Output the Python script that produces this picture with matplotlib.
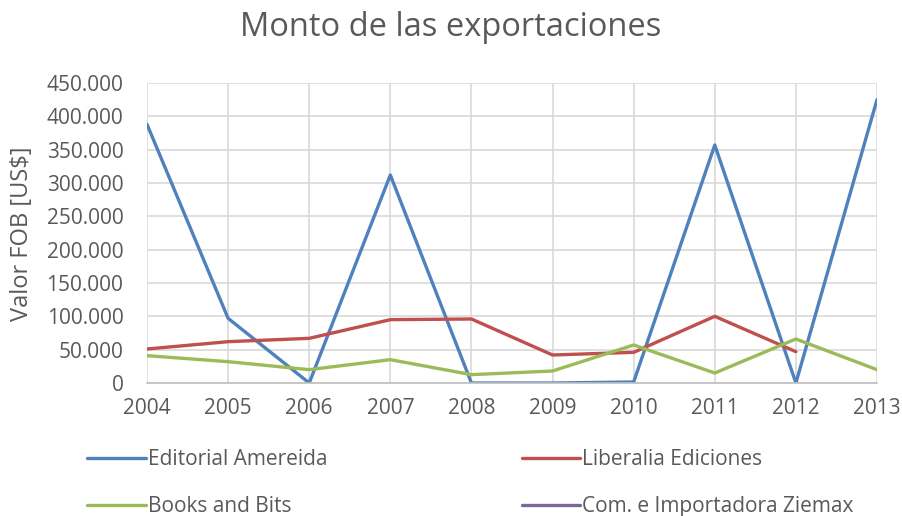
import numpy as np
import matplotlib
matplotlib.use("Agg")
import matplotlib.pyplot as plt
from matplotlib.ticker import FuncFormatter

years = [2004, 2005, 2006, 2007, 2008, 2009, 2010, 2011, 2012, 2013]

# valores FOB (US$)
amereida = [388000, 97000, 0, 312000, 0, 0, 1500, 357000, 0, 425000]
liberalia = [51000, 62000, 67000, 95000, 96000, 42000, 46000, 100000, 47000, np.nan]
books_bits = [41000, 32000, 20000, 35000, 12500, 18000, 57000, 15000, 66000, 20000]
ziemax = [np.nan] * 10

names = ["Editorial Amereida", "Liberalia Ediciones", "Books and Bits", "Com. e Importadora Ziemax"]
colors = ["#4F81BD", "#C0504D", "#9BBB59", "#8064A2"]

plt.rcParams["font.family"] = ["Open Sans", "DejaVu Sans"]
txt = "#595959"

fig = plt.figure(figsize=(9.02, 5.16), dpi=100)
ax = fig.add_axes([147/902, 1-383/516, 730/902, 300/516])

lines = []
for vals, name, c in zip([amereida, liberalia, books_bits, ziemax], names, colors):
    l, = ax.plot(years, vals, color=c, lw=2.4, label=name, solid_capstyle="round")
    lines.append(l)

ax.set_xlim(2004, 2013)
ax.set_ylim(0, 450000)
ax.set_xticks(years)
ax.set_yticks(np.arange(0, 450001, 50000))
ax.yaxis.set_major_formatter(FuncFormatter(lambda v, p: "0" if v == 0 else f"{int(v):,}".replace(",", ".")))
ax.grid(True, color="#D9D9D9", lw=1.2)
ax.set_axisbelow(True)
for s in ["top", "right", "left"]:
    ax.spines[s].set_visible(False)
ax.spines["bottom"].set_color("#BFBFBF")
ax.spines["bottom"].set_linewidth(1.2)
ax.tick_params(length=0, labelsize=15, colors=txt)
ax.tick_params(axis="x", pad=11)
ax.tick_params(axis="y", pad=17)
fig.text(22/902, 1-234/516, "Valor FOB [US$]", rotation=90, fontsize=17, color=txt,
         ha="center", va="center")

fig.text(0.5, 1-28/516, "Monto de las exportaciones", fontsize=23.5, color=txt,
         ha="center", va="center")

order = [0, 2, 1, 3]
fig.legend([lines[i] for i in order], [names[i] for i in order], ncol=2,
           loc="upper left", bbox_to_anchor=(79/902, 1-441/516), frameon=False,
           fontsize=15, labelcolor=txt, handlelength=2.8, handletextpad=0.1,
           labelspacing=1.25, columnspacing=9.35, borderaxespad=0)

fig.savefig("out.png", dpi=100)
